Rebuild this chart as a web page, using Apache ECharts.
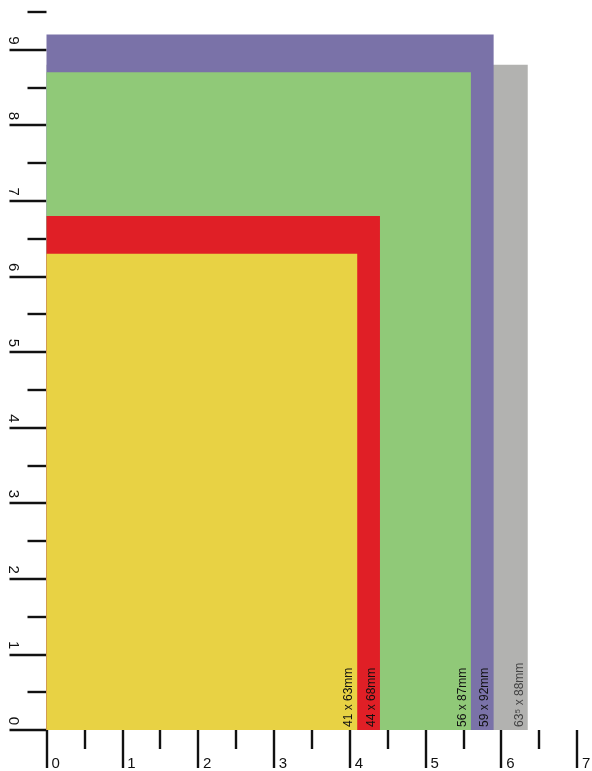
<!DOCTYPE html>
<html>
<head>
<meta charset="utf-8">
<script src="https://cdn.jsdelivr.net/npm/echarts@6/dist/echarts.min.js"></script>
<style>
html,body{margin:0;padding:0;background:#fff;}
#chart{width:592px;height:771px;}
</style>
</head>
<body>
<div id="chart"></div>
<script>
// Card sizes (cm), drawn back to front
const cardLabels = ['63\u2075 x 88mm', '59 x 92mm', '56 x 87mm', '44 x 68mm', '41 x 63mm'];
const cardWidths = [6.35, 5.9, 5.6, 4.4, 4.1];
const cardHeights = [8.8, 9.2, 8.7, 6.8, 6.3];
const xTickLabels = ['0', '1', '2', '3', '4', '5', '6', '7'];
const yTickLabels = ['0', '1', '2', '3', '4', '5', '6', '7', '8', '9'];

const fills = ['#b2b2b0', '#7a72a8', '#90c978', '#e01f26', '#e8d244'];
const textColors = ['#444444', '#111111', '#111111', '#111111', '#111111'];

const data = cardWidths.map((w, i) => [w, cardHeights[i], cardLabels[i]]);

const chart = echarts.init(document.getElementById('chart'), null, {renderer: 'canvas'});
const tickStyle = {color: '#111', width: 2.4};
chart.setOption({
  animation: false,
  grid: {left: 46.5, right: 15, top: -26, bottom: 41, containLabel: false, outerBoundsMode: 'none'},
  xAxis: {
    type: 'value', min: 0, max: 7, interval: 1,
    axisLine: {show: false},
    splitLine: {show: false},
    axisTick: {show: true, inside: false, length: 38, lineStyle: tickStyle},
    minorTick: {show: true, splitNumber: 2, length: 19, lineStyle: tickStyle},
    minorSplitLine: {show: false},
    axisLabel: {
      show: true, align: 'left', margin: 26, padding: [0, 0, 0, 5],
      fontFamily: 'Liberation Sans, Arial, sans-serif', fontSize: 15, color: '#111',
      formatter: v => xTickLabels[Math.round(v)] !== undefined && Math.abs(v - Math.round(v)) < 1e-6 ? xTickLabels[Math.round(v)] : ''
    }
  },
  yAxis: {
    type: 'value', min: 0, max: 10, interval: 1,
    axisLine: {show: false},
    splitLine: {show: false},
    axisTick: {show: true, inside: false, length: 37, lineStyle: tickStyle},
    minorTick: {show: true, splitNumber: 2, length: 19, lineStyle: tickStyle},
    minorSplitLine: {show: false},
    axisLabel: {
      show: true, rotate: -90, align: 'right', verticalAlign: 'middle', margin: 33,
      padding: [0, 5, 0, 0],
      fontFamily: 'Liberation Sans, Arial, sans-serif', fontSize: 15, color: '#111',
      formatter: v => {
        const r = Math.round(v);
        return (Math.abs(v - r) < 1e-6 && yTickLabels[r] !== undefined) ? yTickLabels[r] : '';
      }
    }
  },
  series: [{
    type: 'custom',
    data: data,
    encode: {x: 0, y: 1},
    renderItem: function (params, api) {
      const i = params.dataIndex;
      const w = api.value(0), h = api.value(1);
      const p0 = api.coord([0, 0]);
      const p1 = api.coord([w, h]);
      return {
        type: 'group',
        children: [{
          type: 'rect',
          shape: {x: p0[0], y: p1[1], width: p1[0] - p0[0], height: p0[1] - p1[1]},
          style: {fill: fills[i]}
        }, {
          type: 'text',
          x: p1[0] - 8.5, y: p0[1] - 3,
          rotation: Math.PI / 2,
          style: {
            text: cardLabels[i],
            fill: textColors[i],
            font: '12px "Liberation Sans", Arial, sans-serif',
            align: 'left', verticalAlign: 'middle'
          }
        }]
      };
    }
  }]
});
</script>
</body>
</html>
